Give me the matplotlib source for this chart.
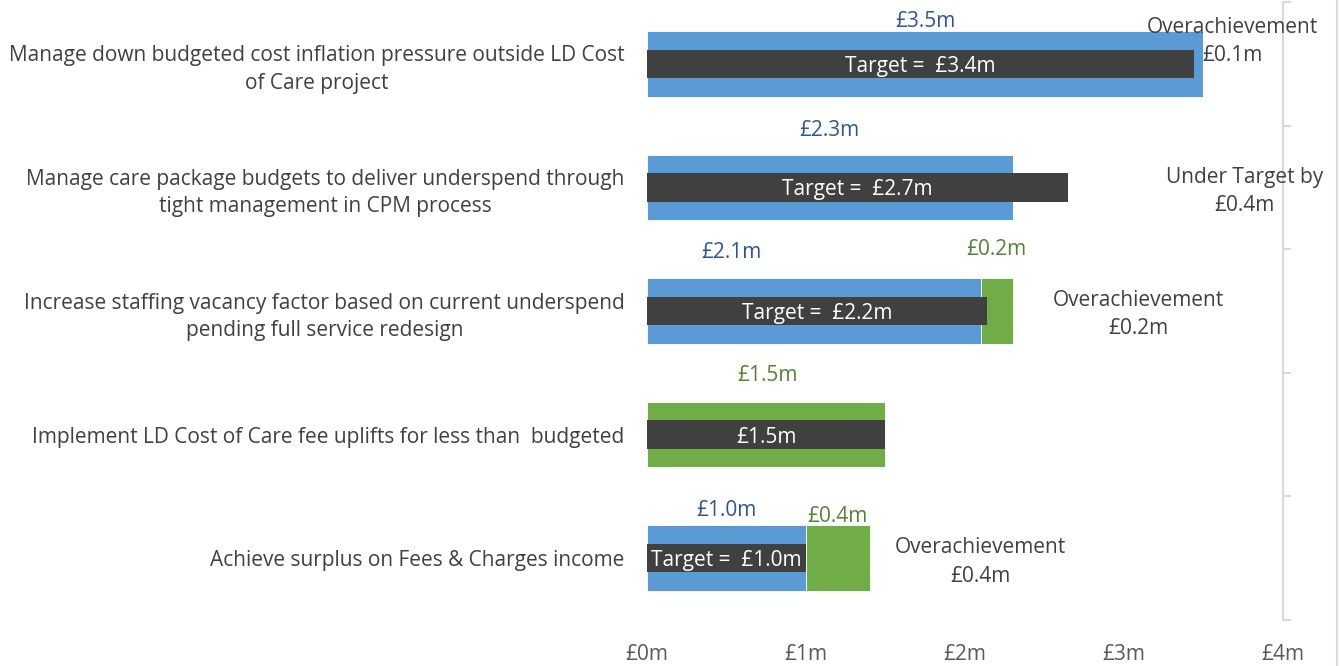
import matplotlib.pyplot as plt
import numpy as np

plt.rcParams['font.family'] = ['Open Sans', 'DejaVu Sans']

categories = [
    "Manage down budgeted cost inflation pressure outside LD Cost\nof Care project",
    "Manage care package budgets to deliver underspend through\ntight management in CPM process",
    "Increase staffing vacancy factor based on current underspend\npending full service redesign",
    "Implement LD Cost of Care fee uplifts for less than  budgeted",
    "Achieve surplus on Fees & Charges income",
]
achieved = [3.5, 2.3, 2.1, 0.0, 1.0]
extra = [0.0, 0.0, 0.2, 1.5, 0.4]
target = [3.44, 2.65, 2.14, 1.5, 1.0]
target_labels = ["Target =  £3.4m", "Target =  £2.7m", "Target =  £2.2m", "£1.5m", "Target =  £1.0m"]
blue_labels = ["£3.5m", "£2.3m", "£2.1m", "", "£1.0m"]
green_labels = ["", "", "£0.2m", "£1.5m", "£0.4m"]
notes = ["Overachievement\n£0.1m", "Under Target by\n£0.4m", "Overachievement\n£0.2m", "",
         "Overachievement\n£0.4m"]
xticks = [0, 1, 2, 3, 4]
xtick_labels = ["£0m", "£1m", "£2m", "£3m", "£4m"]

# label placement (x in £m, y offset in rows)
blue_lx = [1.75, 1.145, 0.53, 0, 0.5]
blue_dy = [0.36, 0.48, 0.49, 0, 0.41]
green_lx = [0, 0, 2.195, 0.76, 1.195]
green_dy = [0, 0, 0.52, 0.50, 0.36]
note_x = [3.68, 3.76, 3.09, 0, 2.10]
note_dy = [-0.21, 0, 0, 0, 0]

BLUE = "#5B9BD5"
GREEN = "#70AD47"
DARK = "#404040"
TXT = "#404040"

fig = plt.figure(figsize=(13.4, 6.66), dpi=100)
ax = fig.add_axes([0.4828, 0.069, 0.4746, 0.928])

y = np.arange(len(categories))
ax.barh(y, achieved, height=0.53, color=BLUE, edgecolor="white", linewidth=0.6)
ax.barh(y, extra, left=achieved, height=0.53, color=GREEN, edgecolor="white", linewidth=0.6)
ax.barh(y, target, height=0.23, color=DARK)

fs = 15
for i in range(len(categories)):
    ax.text(target[i] / 2, y[i], target_labels[i], color="white", ha="center", va="center_baseline",
            fontsize=fs)
    if blue_labels[i]:
        ax.text(blue_lx[i], y[i] - blue_dy[i], blue_labels[i], color="#2F5597", ha="center",
                va="center_baseline", fontsize=fs)
    if green_labels[i]:
        ax.text(green_lx[i], y[i] - green_dy[i], green_labels[i], color="#548235", ha="center",
                va="center_baseline", fontsize=fs)
    if notes[i]:
        ax.text(note_x[i], y[i] + note_dy[i] + 0.03, notes[i], color=TXT, ha="center", va="center",
                fontsize=fs, linespacing=1.45, clip_on=False)

ax.set_xlim(0, 4)
ax.set_ylim(len(categories) - 0.5, -0.5)
ax.set_xticks(xticks)
ax.set_xticklabels(xtick_labels, fontsize=fs, color="#595959")
ax.tick_params(axis="x", length=0, pad=17)
ax.set_yticks(y)
ax.set_yticklabels(categories, fontsize=fs, color=TXT, multialignment="center", linespacing=1.4)
ax.tick_params(axis="y", which="major", length=0, pad=16)
ax.set_yticks(np.arange(-0.5, len(categories), 1.0), minor=True)
ax.tick_params(axis="y", which="minor", left=False, right=True, direction="out", length=6,
               color="#D9D9D9", width=1.5)

for s in ["left", "top", "bottom"]:
    ax.spines[s].set_visible(False)
ax.spines["right"].set_color("#D9D9D9")
ax.spines["right"].set_linewidth(1.5)

fig.add_artist(plt.Line2D([0.9975, 0.9975], [0, 1], color="#D9D9D9", linewidth=1.5))

fig.savefig("out.png", dpi=100)
